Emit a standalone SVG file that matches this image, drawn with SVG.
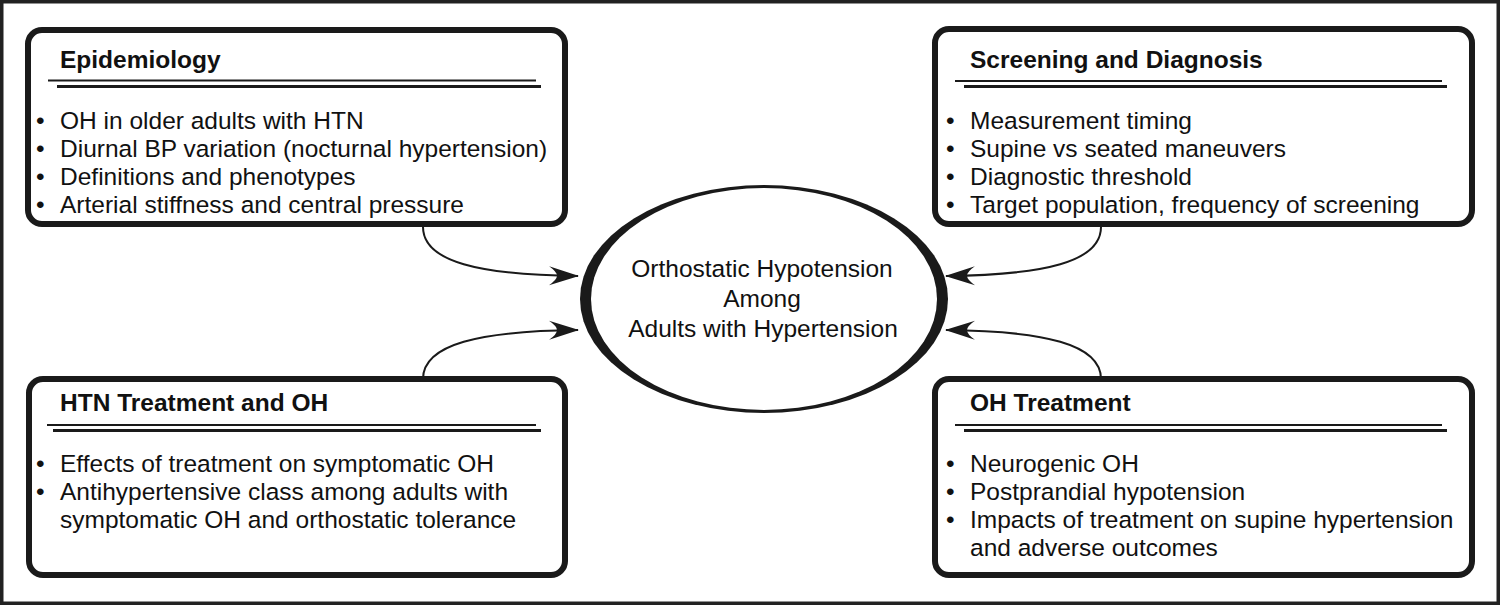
<svg xmlns="http://www.w3.org/2000/svg" width="1500" height="605" viewBox="0 0 1500 605">
<defs>
<style>
.box{fill:#fff;stroke:#1a1a1a;stroke-width:6}
.title{font-family:"Liberation Sans",Arial,sans-serif;font-weight:bold;font-size:24.5px;fill:#111}
.body{font-family:"Liberation Sans",Arial,sans-serif;font-size:24.5px;fill:#111}
.center{font-family:"Liberation Sans",Arial,sans-serif;font-size:24.5px;fill:#111;text-anchor:middle}
.l1{stroke:#1a1a1a;stroke-width:2}
.l2{stroke:#1a1a1a;stroke-width:3}
.conn{fill:none;stroke:#1a1a1a;stroke-width:2}
</style>
<marker id="arr" viewBox="0 0 30 20" refX="29" refY="10" markerWidth="30" markerHeight="20" markerUnits="userSpaceOnUse" orient="auto">
<path d="M30,10 L0,0.5 Q8,6 8,10 Q8,14 0,19.5 Z" fill="#1a1a1a"/>
</marker>
</defs>
<rect x="0" y="0" width="1500" height="605" fill="#fff"/>
<rect x="1.75" y="1.75" width="1496.5" height="601.5" fill="none" stroke="#222" stroke-width="3.5"/>

<g id="connectors">
<path class="conn" d="M423,227 C423,262 480,275 578,276" marker-end="url(#arr)"/>
<path class="conn" d="M423,379 C423,344 480,331 578,330" marker-end="url(#arr)"/>
<path class="conn" d="M1101,227 C1101,262 1044,275 946,276" marker-end="url(#arr)"/>
<path class="conn" d="M1101,379 C1101,344 1044,331 946,330" marker-end="url(#arr)"/>
</g>

<g id="center">
<ellipse cx="764" cy="299" rx="184" ry="114" fill="#1a1a1a"/>
<ellipse cx="764" cy="299" rx="173" ry="111" fill="#fff"/>
<text class="center" x="762" y="277">Orthostatic Hypotension</text>
<text class="center" x="762" y="307">Among</text>
<text class="center" x="763" y="337">Adults with Hypertension</text>
</g>

<g id="epidemiology">
<rect class="box" x="28" y="30" width="537" height="194" rx="14"/>
<text class="title" x="60" y="68">Epidemiology</text>
<line class="l1" x1="48" y1="80.5" x2="536" y2="80.5"/>
<line class="l2" x1="57" y1="86.5" x2="541" y2="86.5"/>
<text class="body" x="36" y="129">•</text><text class="body" x="60" y="129">OH in older adults with HTN</text>
<text class="body" x="36" y="157">•</text><text class="body" x="60" y="157">Diurnal BP variation (nocturnal hypertension)</text>
<text class="body" x="36" y="185">•</text><text class="body" x="60" y="185">Definitions and phenotypes</text>
<text class="body" x="36" y="213">•</text><text class="body" x="60" y="213">Arterial stiffness and central pressure</text>
</g>

<g id="screening">
<rect class="box" x="935" y="29" width="537" height="195" rx="14"/>
<text class="title" x="970" y="68">Screening and Diagnosis</text>
<line class="l1" x1="955" y1="81" x2="1442" y2="81"/>
<line class="l2" x1="964" y1="86.5" x2="1447" y2="86.5"/>
<text class="body" x="946" y="129">•</text><text class="body" x="970" y="129">Measurement timing</text>
<text class="body" x="946" y="157">•</text><text class="body" x="970" y="157">Supine vs seated maneuvers</text>
<text class="body" x="946" y="185">•</text><text class="body" x="970" y="185">Diagnostic threshold</text>
<text class="body" x="946" y="213">•</text><text class="body" x="970" y="213">Target population, frequency of screening</text>
</g>

<g id="htn-treatment">
<rect class="box" x="29" y="379" width="536" height="196" rx="14"/>
<text class="title" x="60" y="411">HTN Treatment and OH</text>
<line class="l1" x1="47" y1="425" x2="536" y2="425"/>
<line class="l2" x1="53" y1="430.5" x2="541" y2="430.5"/>
<text class="body" x="36" y="472">•</text><text class="body" x="60" y="472">Effects of treatment on symptomatic OH</text>
<text class="body" x="36" y="500">•</text><text class="body" x="60" y="500">Antihypertensive class among adults with</text>
<text class="body" x="60" y="528">symptomatic OH and orthostatic tolerance</text>
</g>

<g id="oh-treatment">
<rect class="box" x="935" y="379" width="537" height="196" rx="14"/>
<text class="title" x="970" y="411">OH Treatment</text>
<line class="l1" x1="955" y1="425" x2="1442" y2="425"/>
<line class="l2" x1="964" y1="430.5" x2="1447" y2="430.5"/>
<text class="body" x="946" y="472">•</text><text class="body" x="970" y="472">Neurogenic OH</text>
<text class="body" x="946" y="500">•</text><text class="body" x="970" y="500">Postprandial hypotension</text>
<text class="body" x="946" y="528">•</text><text class="body" x="970" y="528">Impacts of treatment on supine hypertension</text>
<text class="body" x="970" y="556">and adverse outcomes</text>
</g>
</svg>
